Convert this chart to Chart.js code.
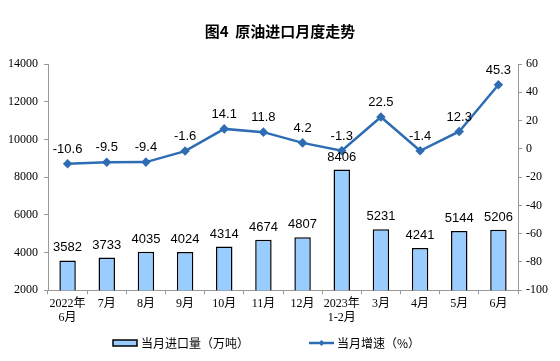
<!DOCTYPE html>
<html>
<head>
<meta charset="utf-8">
<script src="https://cdn.jsdelivr.net/npm/chart.js@4/dist/chart.umd.min.js"></script>
<style>
  html, body { margin: 0; padding: 0; background: #fff; }
  #wrap { width: 560px; height: 361px; position: relative; }
</style>
</head>
<body>
<div id="wrap"><canvas id="oilChart" width="560" height="361"></canvas></div>
<script>
const months = [["2022年", "6月"], "7月", "8月", "9月", "10月", "11月", "12月", ["2023年", "1-2月"], "3月", "4月", "5月", "6月"];
const imports = [3582, 3733, 4035, 4024, 4314, 4674, 4807, 8406, 5231, 4241, 5144, 5206]; // 万吨
const growth = [-10.6, -9.5, -9.4, -1.6, 14.1, 11.8, 4.2, -1.3, 22.5, -1.4, 12.3, 45.3]; // %

const serif = "'Liberation Serif', 'Noto Sans CJK SC', serif";
const cjk = "'Noto Sans CJK SC', sans-serif";
const lineColor = "#2E6DB4";
const barColor = "#99CCFF";

// value labels above bars and points
const valueLabels = {
  id: "valueLabels",
  afterDatasetsDraw(chart) {
    const ctx = chart.ctx;
    ctx.save();
    ctx.font = "13px 'Liberation Sans', Arial, sans-serif";
    ctx.fillStyle = "#000";
    ctx.textAlign = "center";
    ctx.textBaseline = "bottom";
    chart.data.datasets.forEach((ds, i) => {
      const meta = chart.getDatasetMeta(i);
      meta.data.forEach((el, j) => {
        const off = ds.type === "line" ? 8 : 6;
        ctx.fillText(String(ds.data[j]), el.x, el.y - off);
      });
    });
    ctx.restore();
  },
};

// legend drawn by hand so the spacing can match the original
const bottomLegend = {
  id: "bottomLegend",
  afterDraw(chart) {
    const ctx = chart.ctx;
    const y = chart.height - 18;
    ctx.save();
    ctx.font = "12px " + cjk;
    ctx.fillStyle = "#000";
    ctx.textBaseline = "middle";
    // bar item
    let x = 113;
    ctx.fillStyle = barColor;
    ctx.fillRect(x, y - 3, 24, 6);
    ctx.strokeStyle = "#000";
    ctx.lineWidth = 1.5;
    ctx.strokeRect(x, y - 3, 24, 6);
    ctx.fillStyle = "#000";
    ctx.fillText(chart.data.datasets[1].label, x + 28, y);
    // line item
    x = 309;
    ctx.strokeStyle = lineColor;
    ctx.lineWidth = 2.5;
    ctx.beginPath();
    ctx.moveTo(x, y);
    ctx.lineTo(x + 25, y);
    ctx.stroke();
    ctx.fillStyle = lineColor;
    ctx.beginPath();
    ctx.moveTo(x + 12.5, y - 3);
    ctx.lineTo(x + 15.5, y);
    ctx.lineTo(x + 12.5, y + 3);
    ctx.lineTo(x + 9.5, y);
    ctx.closePath();
    ctx.fill();
    ctx.fillStyle = "#000";
    ctx.fillText(chart.data.datasets[0].label, x + 28, y);
    ctx.restore();
  },
};

new Chart(document.getElementById("oilChart").getContext("2d"), {
  data: {
    labels: months,
    datasets: [
      {
        type: "line",
        label: "当月增速（%）",
        data: growth,
        yAxisID: "y1",
        borderColor: lineColor,
        backgroundColor: lineColor,
        borderWidth: 2.5,
        pointStyle: "rectRot",
        pointRadius: 3,
        pointHoverRadius: 3,
        tension: 0,
        order: 0,
      },
      {
        type: "bar",
        label: "当月进口量（万吨）",
        data: imports,
        yAxisID: "y",
        backgroundColor: barColor,
        borderColor: "#000",
        borderWidth: 1.5,
        barPercentage: 0.42,
        categoryPercentage: 1,
        order: 1,
      },
    ],
  },
  options: {
    responsive: false,
    animation: false,
    layout: { padding: { top: 8, bottom: 34 } },
    plugins: {
      title: {
        display: true,
        text: "图4  原油进口月度走势",
        color: "#000",
        font: { family: cjk, size: 15, weight: "bold" },
        padding: { top: 14, bottom: 24 },
      },
      legend: { display: false },
      tooltip: { enabled: false },
    },
    scales: {
      x: {
        grid: { display: true, drawOnChartArea: false, offset: true, color: "#999", tickLength: 4 },
        border: { color: "#999" },
        ticks: { color: "#000", font: { family: serif, size: 12 }, maxRotation: 0, padding: 2 },
      },
      y: {
        position: "left",
        min: 2000,
        max: 14000,
        grid: { display: true, drawOnChartArea: false, color: "#999", tickLength: 4 },
        border: { color: "#999" },
        ticks: { stepSize: 2000, color: "#000", font: { family: serif, size: 12 }, padding: 6, callback: (v) => String(v) },
        afterFit(scale) { scale.width = 48; },
      },
      y1: {
        position: "right",
        min: -100,
        max: 60,
        grid: { display: true, drawOnChartArea: false, color: "#999", tickLength: 4 },
        border: { color: "#999" },
        ticks: { stepSize: 20, color: "#000", font: { family: serif, size: 12 }, padding: 4, callback: (v) => String(v) },
        afterFit(scale) { scale.width = 42; },
      },
    },
  },
  plugins: [valueLabels, bottomLegend],
});
</script>
</body>
</html>
